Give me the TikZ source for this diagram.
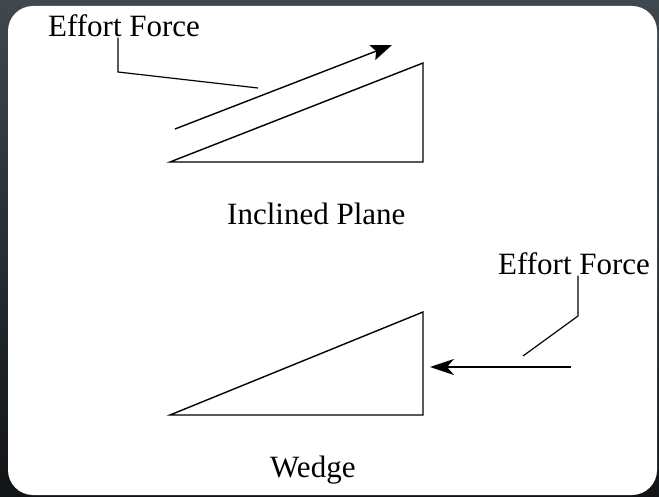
\documentclass[tikz,border=0pt]{standalone}
\usepackage{fontspec}
\setmainfont{Liberation Serif}
\usetikzlibrary{arrows.meta,positioning}

\definecolor{slidetop}{RGB}{62,72,78}
\definecolor{slidebot}{RGB}{18,20,22}

\begin{document}
\begin{tikzpicture}[x=1pt,y=-1pt,>=Stealth,
        lbl/.style={inner sep=0pt,anchor=base west,font=\fontsize{31}{36}\selectfont},
        edge/.style={line width=1.4pt,line join=miter},
        lead/.style={line width=1.2pt}]
        \useasboundingbox (0,0) rectangle (659,497);
        \shade[top color=slidetop,bottom color=slidebot] (0,0) rectangle (659,497);
        \fill[white,rounded corners=25pt] (8,6) rectangle (657,495);

        % inclined plane
        \coordinate (planeL) at (170,162);
        \coordinate (planeR) at (423,162);
        \coordinate (planeT) at (423,63);
        \draw[edge] (planeL) -- (planeR) -- (planeT) -- cycle;
        \coordinate (pushA) at (175,129);
        \coordinate (pushB) at (392,45);
        \draw[edge,-{Stealth[length=21pt,width=16pt,inset=4pt]}] (pushA) -- (pushB);
        \node[lbl] (effort1) at (48,37) {Effort Force};
        \node[lbl] (plane) at (227,225) {Inclined Plane};
        \coordinate (bend1) at (118,72);
        \coordinate (tip1) at (258,88);
        \draw[lead] (effort1.south -| bend1) -- (bend1) -- (tip1);

        % wedge
        \coordinate (wedgeL) at (170,415);
        \coordinate (wedgeR) at (423,415);
        \coordinate (wedgeT) at (423,312);
        \draw[edge] (wedgeL) -- (wedgeR) -- (wedgeT) -- cycle;
        \coordinate (pushC) at (571,367);
        \coordinate (pushD) at (430,367);
        \draw[edge,-{Stealth[length=24pt,width=16pt,inset=7pt]}] (pushC) -- (pushD);
        \node[lbl] (effort2) at (498,275) {Effort Force};
        \node[lbl] (wedge) at (270,477) {Wedge};
        \coordinate (bend2) at (578,316);
        \coordinate (tip2) at (523,356);
        \draw[lead] (effort2.south -| bend2) -- (bend2) -- (tip2);
    \end{tikzpicture}
\end{document}
